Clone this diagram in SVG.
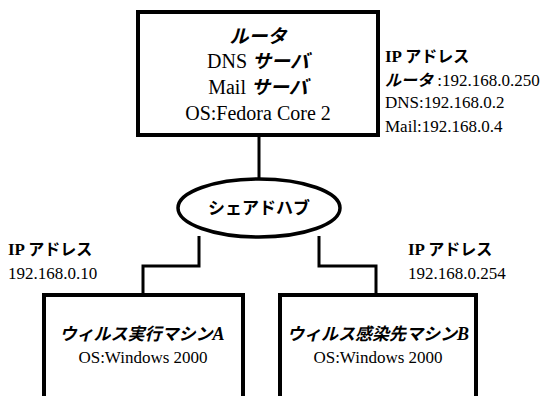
<svg xmlns="http://www.w3.org/2000/svg" width="545" height="396" viewBox="0 0 545 396">
<style>
.box{fill:#fff;stroke:#000;stroke-width:4}
.hub{fill:#fff;stroke:#000;stroke-width:3.5}
.ln{fill:none;stroke:#000;stroke-width:3}
.s{font-family:"Liberation Serif","Times New Roman",serif;fill:#000}
.j{font-family:"Noto Sans CJK JP",sans-serif;font-weight:bold}
.bi{font-family:"Liberation Serif",serif;font-weight:bold;font-style:italic}
.b{font-weight:bold}
.it{font-style:italic}
</style>
<rect width="545" height="396" fill="#fff"/>
<g id="connectors">
<line class="ln" x1="259" y1="136" x2="259" y2="180"/>
<polyline class="ln" points="199,236 199,266 143,266 143,294"/>
<polyline class="ln" points="319,236 319,266 376,266 376,294"/>
</g>
<g id="router">
<rect class="box" x="138" y="12" width="240" height="123"/>
<text class="j it" x="258" y="43" font-size="19" text-anchor="middle">ルータ</text>
<text x="258" y="68" font-size="20" text-anchor="middle"><tspan class="s">DNS </tspan><tspan class="j it" font-size="19">サーバ</tspan></text>
<text x="258" y="94" font-size="20" text-anchor="middle"><tspan class="s">Mail </tspan><tspan class="j it" font-size="19">サーバ</tspan></text>
<text class="s" x="258" y="120" font-size="20" text-anchor="middle">OS:Fedora Core 2</text>
</g>
<g id="router-ip">
<text x="385" y="62" font-size="17"><tspan class="s b">IP </tspan><tspan class="j" font-size="16">アドレス</tspan></text>
<text x="385" y="86" font-size="17"><tspan class="j it" font-size="16">ルータ</tspan><tspan class="s"> :192.168.0.250</tspan></text>
<text class="s" x="385" y="108" font-size="17">DNS:192.168.0.2</text>
<text class="s" x="385" y="132" font-size="17">Mail:192.168.0.4</text>
</g>
<g id="hub">
<ellipse class="hub" cx="259" cy="208" rx="81" ry="29"/>
<text class="j" x="259" y="214" font-size="17" text-anchor="middle">シェアドハブ</text>
</g>
<g id="ip-a">
<text x="8" y="255" font-size="17"><tspan class="s b">IP </tspan><tspan class="j" font-size="16">アドレス</tspan></text>
<text class="s" x="8" y="279" font-size="17">192.168.0.10</text>
</g>
<g id="ip-b">
<text x="408" y="255" font-size="17"><tspan class="s b">IP </tspan><tspan class="j" font-size="16">アドレス</tspan></text>
<text class="s" x="408" y="279" font-size="17">192.168.0.254</text>
</g>
<g id="machine-a">
<rect class="box" x="44" y="295" width="199" height="130"/>
<text x="142" y="340" font-size="18" text-anchor="middle"><tspan class="j it" font-size="17">ウィルス実行マシン</tspan><tspan class="bi">A</tspan></text>
<text class="s" x="143" y="363" font-size="17" text-anchor="middle">OS:Windows 2000</text>
</g>
<g id="machine-b">
<rect class="box" x="280" y="295" width="196" height="130"/>
<text x="378" y="340" font-size="18" text-anchor="middle"><tspan class="j it" font-size="17">ウィルス感染先マシン</tspan><tspan class="bi">B</tspan></text>
<text class="s" x="378" y="363" font-size="17" text-anchor="middle">OS:Windows 2000</text>
</g>
</svg>
